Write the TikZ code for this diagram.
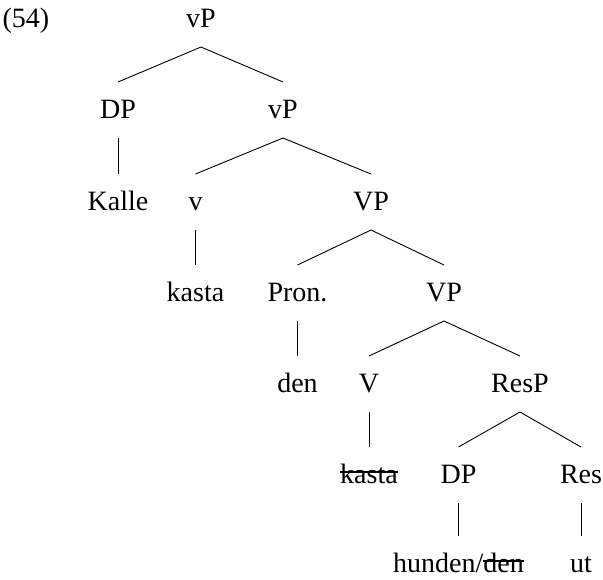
\documentclass[tikz,border=0pt]{standalone}
\usepackage{fontspec}
\setmainfont{Liberation Serif}
\newcommand\strk[1]{\setbox0\hbox{#1}\rlap{\rule[0.37em]{\wd0}{0.05em}}\box0}
\begin{document}
\begin{tikzpicture}[x=1pt,y=-1pt,
  lab/.style={anchor=base,inner sep=0pt,font=\fontsize{28}{34}\selectfont},
  edge/.style={line width=0.9pt}]
\useasboundingbox (0,0) rectangle (603,579);
\node[lab] (ex) at (26,27) {(54)};
\node[lab] (vP1) at (201,27) {vP};
\node[lab] (DP1) at (118,118) {DP};
\node[lab] (vP2) at (283,118) {vP};
\node[lab] (Kalle) at (118,210) {Kalle};
\node[lab] (v) at (195.5,210) {v};
\node[lab] (VP1) at (371,210) {VP};
\node[lab] (kasta1) at (195.5,301) {kasta};
\node[lab] (Pron) at (297.5,301) {Pron.};
\node[lab] (VP2) at (444,301) {VP};
\node[lab] (den) at (297.5,392) {den};
\node[lab] (V) at (369,392) {V};
\node[lab] (ResP) at (520,392) {ResP};
\node[lab] (kasta2) at (369,483) {\strk{kasta}};
\node[lab] (DP2) at (458.5,483) {DP};
\node[lab] (Res) at (581,483) {Res};
\node[lab] (hunden) at (458.5,572) {hunden/\strk{den}};
\node[lab] (ut) at (581,572) {ut};
\foreach \p/\c in {vP1/DP1, vP1/vP2, DP1/Kalle, vP2/v, vP2/VP1, v/kasta1,
  VP1/Pron, VP1/VP2, Pron/den, VP2/V, VP2/ResP, V/kasta2, ResP/DP2, ResP/Res,
  DP2/hunden, Res/ut}
  \draw[edge] ([yshift=-20pt]\p.base) -- ([yshift=36pt]\c.base);
\end{tikzpicture}
\end{document}
